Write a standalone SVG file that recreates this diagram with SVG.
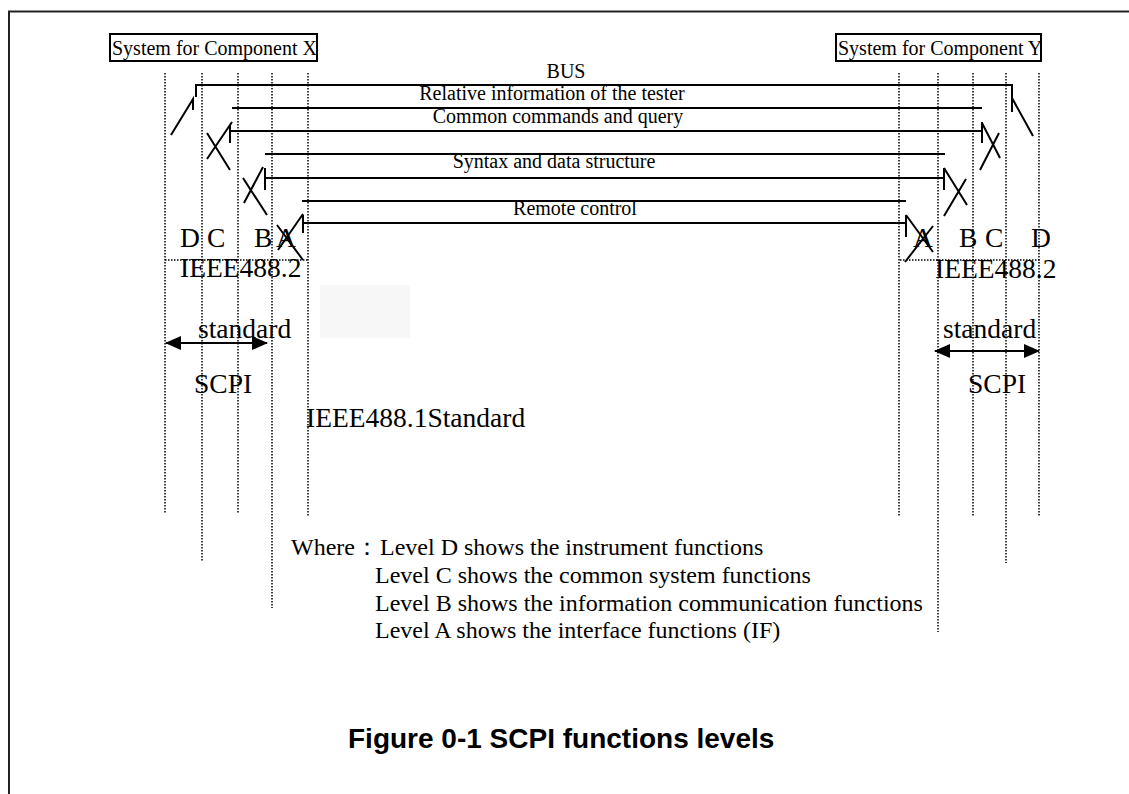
<svg xmlns="http://www.w3.org/2000/svg" width="1129" height="794" viewBox="0 0 1129 794">
<defs>
<style>
.ln{stroke:#000;stroke-width:2;fill:none}
.dot{stroke:#000;stroke-width:1.5;stroke-dasharray:1.5 1.5;fill:none}
.t20{font-family:"Liberation Serif",serif;font-size:20px;fill:#000}
.t27{font-family:"Liberation Serif",serif;font-size:27.5px;fill:#000}
.t24{font-family:"Liberation Serif",serif;font-size:24px;fill:#000}
.cap{font-family:"Liberation Sans",Arial,sans-serif;font-size:28px;font-weight:bold;fill:#000}
</style>
<marker id="ah" viewBox="0 0 16 14" refX="15" refY="7" markerWidth="16" markerHeight="14" markerUnits="userSpaceOnUse" orient="auto-start-reverse">
<path d="M0,0 L16,7 L0,14 Z" fill="#000"/>
</marker>
</defs>
<rect width="1129" height="794" fill="#fff"/>
<rect x="9" y="11.5" width="1140" height="800" fill="none" stroke="#222" stroke-width="2"/>
<rect x="320" y="285" width="90" height="53" fill="#f7f7f7"/>

<g id="dotted-guides">
<path class="dot" d="M165,73V513 M202,73V562 M238,73V514 M272,73V608 M308,73V516"/>
<path class="dot" d="M899,73V516 M938,73V632 M973,73V516 M1006,73V563 M1039,73V516"/>
<path class="dot" d="M165,260H308 M900,260H1040"/>
</g>

<g id="systemX">
<rect x="110" y="34" width="207" height="27" fill="#fff" stroke="#000" stroke-width="2"/>
<text class="t20" x="112" y="55">System for Component X</text>
</g>
<g id="systemY">
<rect x="836" y="34" width="205" height="27" fill="#fff" stroke="#000" stroke-width="2"/>
<text class="t20" x="838" y="55">System for Component Y</text>
</g>

<g id="connectors">
<path class="ln" d="M196,97V85H1012V112"/>
<path class="ln" d="M193,110V99L171,135 M1012,98L1033,136"/>
<path class="ln" d="M232,108H982"/>
<path class="ln" d="M230,131H982 M230,125V143 M232,122L207,159 M207,133L230,170 M982,122V143 M982,123L1000,158 M999,133L980,170"/>
<path class="ln" d="M265,154H945"/>
<path class="ln" d="M265,178H944 M265,168V190 M263,167L244,203 M243,178L267,215 M944,168V190 M944,168L967,205 M966,179L944,216"/>
<path class="ln" d="M302,201H906"/>
<path class="ln" d="M303,223H906 M303,215V233 M303,214L278,250 M277,225L303,260 M906,215V237 M906,215L933,252 M933,226L905,262"/>
<line class="ln" x1="166" y1="343" x2="267" y2="343" marker-start="url(#ah)" marker-end="url(#ah)"/>
<line class="ln" x1="935" y1="351" x2="1039" y2="351" marker-start="url(#ah)" marker-end="url(#ah)"/>
</g>

<g id="layer-labels" text-anchor="middle">
<text class="t20" x="566" y="78">BUS</text>
<text class="t20" x="552" y="100">Relative information of the tester</text>
<text class="t20" x="558" y="123">Common commands and query</text>
<text class="t20" x="554" y="168">Syntax and data structure</text>
<text class="t20" x="575" y="215">Remote control</text>
</g>

<g id="left-labels">
<text class="t27" x="180" y="247">D</text>
<text class="t27" x="207" y="247">C</text>
<text class="t27" x="254" y="247">B</text>
<text class="t27" x="276" y="247">A</text>
<text class="t27" x="180" y="277">IEEE488.2</text>
<text class="t27" x="198" y="338">standard</text>
<text class="t27" x="194" y="393">SCPI</text>
<text class="t27" x="306" y="427">IEEE488.1Standard</text>
</g>
<g id="right-labels">
<text class="t27" x="913" y="247">A</text>
<text class="t27" x="959" y="247">B</text>
<text class="t27" x="985" y="247">C</text>
<text class="t27" x="1031" y="247">D</text>
<text class="t27" x="935" y="278">IEEE488.2</text>
<text class="t27" x="943" y="338">standard</text>
<text class="t27" x="968" y="393">SCPI</text>
</g>

<g id="legend">
<text class="t24" x="291" y="555">Where：</text>
<text class="t24" x="380" y="555">Level D shows the instrument functions</text>
<text class="t24" x="375" y="583">Level C shows the common system functions</text>
<text class="t24" x="375" y="611">Level B shows the information communication functions</text>
<text class="t24" x="375" y="638">Level A shows the interface functions (IF)</text>
</g>

<g id="caption">
<text class="cap" x="348" y="748">Figure 0-1 SCPI functions levels</text>
</g>
</svg>
